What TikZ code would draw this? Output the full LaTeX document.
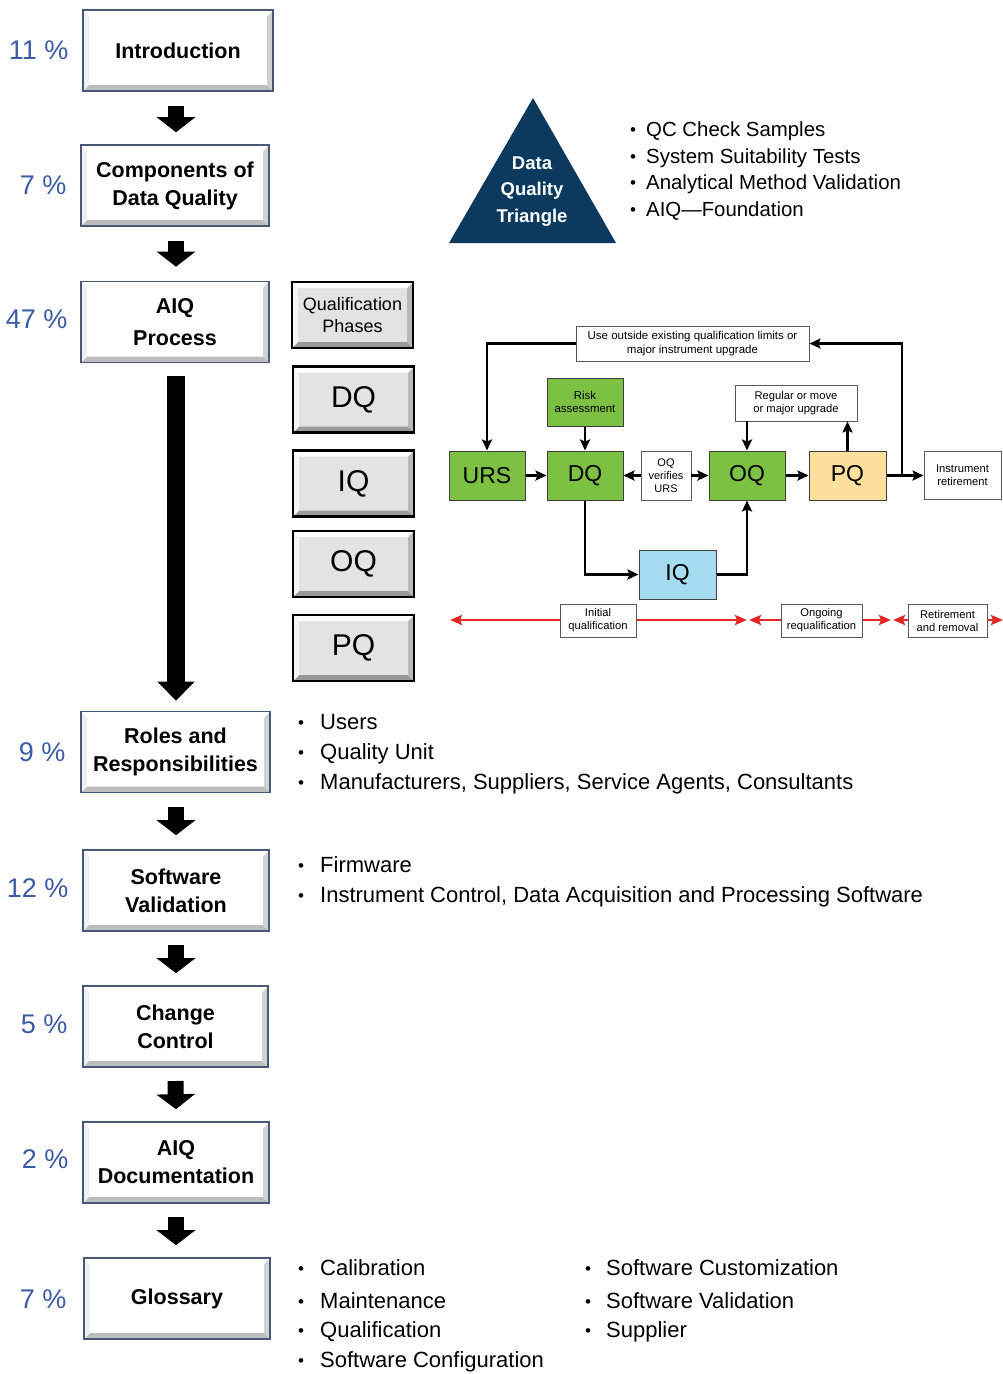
\documentclass[tikz,border=0pt]{standalone}
\usepackage{fontspec}
\setmainfont{Liberation Sans}
\usetikzlibrary{arrows.meta,calc}
\definecolor{pct}{HTML}{3B5BA5}
\definecolor{lborder}{HTML}{4A5878}
\definecolor{navy}{HTML}{0B3A5E}
\definecolor{fgreen}{HTML}{7DC142}
\definecolor{fpq}{HTML}{FDE09E}
\definecolor{fiq}{HTML}{A5DCEF}
\definecolor{rline}{HTML}{E32626}
\newcommand\tbulfont{\fontsize{20.4}{24}\selectfont}
\newcommand\lbulfont{\fontsize{22}{26}\selectfont}
\newcommand\bevelpic[5]{%
 \fill[#1] (path picture bounding box.south west) -- (path picture bounding box.south east) -- ([shift={(-#5,#5)}]path picture bounding box.south east) -- ([shift={(#5,#5)}]path picture bounding box.south west) -- cycle;
 \fill[#2] (path picture bounding box.south east) -- (path picture bounding box.north east) -- ([shift={(-#5,-#5)}]path picture bounding box.north east) -- ([shift={(-#5,#5)}]path picture bounding box.south east) -- cycle;
 \fill[#3] (path picture bounding box.south west) -- (path picture bounding box.north west) -- ([shift={(#5,-#5)}]path picture bounding box.north west) -- ([shift={(#5,#5)}]path picture bounding box.south west) -- cycle;
 \fill[#4] (path picture bounding box.north west) -- (path picture bounding box.north east) -- ([shift={(-#5,-#5)}]path picture bounding box.north east) -- ([shift={(#5,-#5)}]path picture bounding box.north west) -- cycle;
}
\newcommand\bitem[5]{%
 \node[bdot] (#1b) at (#2,#4) {•};
 \node[btext] (#1) at (#3,#4) {#5};
}
\begin{document}
\begin{tikzpicture}[x=1pt,y=-1pt,
 leftbox/.style={draw=lborder, line width=1.6pt, fill=white, inner sep=0pt, align=center,
   minimum height=81pt, font=\fontsize{21.5}{28}\selectfont\bfseries,
   path picture={\bevelpic{black!26}{black!18}{black!6}{white}{6pt}}},
 qbox/.style={draw=black, line width=2.4pt, fill=black!11, inner sep=0pt, align=center,
   minimum width=121pt, minimum height=66pt, font=\fontsize{30}{32}\selectfont,
   path picture={\bevelpic{black!40}{black!28}{black!4}{white}{6pt}}},
 pct/.style={anchor=east, text=pct, font=\fontsize{27}{30}\selectfont},
 barrow/.style={line width=16pt, -{Triangle[width=38pt,length=15pt]}},
 fbox/.style={draw=black!75, line width=1pt, inner sep=0pt, align=center, minimum height=49pt, font=\fontsize{23}{26}\selectfont},
 sbox/.style={draw=black!65, line width=0.9pt, fill=white, inner sep=0pt, align=center, font=\fontsize{11.2}{13}\selectfont},
 flow/.style={line width=2.4pt, -{Stealth[length=11pt,width=10pt,inset=2pt]}},
 redarr/.style={draw=rline, line width=2.6pt, {Stealth[length=12pt,width=10pt,inset=2pt]}-{Stealth[length=12pt,width=10pt,inset=2pt]}},
 bdot/.style={anchor=base, font=\fontsize{17}{17}\selectfont, inner sep=0pt, yshift=-6.5pt},
 btext/.style={anchor=base west, inner sep=0pt, yshift=-7pt}
]
\useasboundingbox (0,0) rectangle (1003,1374);

% ---- left column ----
\node[leftbox, minimum width=190pt] (intro) at (178,50.5) {Introduction};
\node[leftbox, minimum width=188pt] (comp) at (175,185.5) {Components of\\Data Quality};
\node[leftbox, minimum width=188pt, font=\fontsize{21.5}{32}\selectfont\bfseries] (aiq) at (175,322) {AIQ\\Process};
\node[leftbox, minimum width=189pt] (roles) at (175.5,752) {Roles and\\Responsibilities};
\node[leftbox, minimum width=186pt] (sw) at (176,890.5) {Software\\Validation};
\node[leftbox, minimum width=185pt] (cc) at (175.5,1026.5) {Change\\Control};
\node[leftbox, minimum width=186pt] (doc) at (176,1162.5) {AIQ\\Documentation};
\node[leftbox, minimum width=186pt] (gloss) at (177,1298.5) {Glossary};

\node[pct] (p1) at (72,50) {11 \%};
\node[pct] (p2) at (70,185) {7 \%};
\node[pct] (p3) at (71,319) {47 \%};
\node[pct] (p4) at (69,752) {9 \%};
\node[pct] (p5) at (72,888) {12 \%};
\node[pct] (p6) at (71,1024) {5 \%};
\node[pct] (p7) at (72,1159) {2 \%};
\node[pct] (p8) at (70,1299) {7 \%};

\draw[barrow] ($(intro.south)+(-2,14)$) -- ($(comp.north)+(1,-12)$);
\draw[barrow] ($(comp.south)+(1,14)$) -- ($(aiq.north)+(1,-14)$);
\draw[line width=18pt, -{Triangle[width=36pt,length=19pt]}] ($(aiq.south)+(1,13)$) -- ($(roles.north)+(0.5,-10)$);
\draw[barrow] ($(roles.south)+(0.5,14)$) -- ($(sw.north)+(0,-14)$);
\draw[barrow] (sw.south |- 0,945) -- ($(cc.north)+(0.5,-12)$);
\draw[barrow] (cc.south |- 0,1081) -- ($(doc.north)+(0,-12)$);
\draw[barrow] (doc.south |- 0,1217) -- ($(gloss.north)+(-1,-12)$);

% ---- qualification phases ----
\node[qbox, font=\fontsize{18}{22}\selectfont] (qp) at (352.5,315) {Qualification\\Phases};
\node[qbox] (qdq) at (353.5,399.5) {DQ};
\node[qbox] (qiq) at (353.5,483.5) {IQ};
\node[qbox] (qoq) at (353.5,564) {OQ};
\node[qbox] (qpq) at (353.5,648) {PQ};

% ---- data quality triangle ----
\fill[navy] (533,98) -- (616,243) -- (449,243) -- cycle;
\node[text=white, align=center, font=\fontsize{18.5}{26.5}\selectfont\bfseries] (dqt) at (532,191.5) {Data\\Quality\\Triangle};

\bitem{t1}{633}{646}{129}{\tbulfont QC Check Samples}
\bitem{t2}{633}{646}{156}{\tbulfont System Suitability Tests}
\bitem{t3}{633}{646}{182}{\tbulfont Analytical Method Validation}
\bitem{t4}{633}{646}{209}{\tbulfont AIQ\char"2014 Foundation}

% ---- flowchart ----
\node[sbox, minimum width=233pt, minimum height=35pt, font=\fontsize{11.5}{13.5}\selectfont] (utop) at (692.5,343.5) {Use outside existing qualification limits or\\major instrument upgrade};
\node[fbox, fill=fgreen, minimum width=76pt, minimum height=48pt, font=\fontsize{11.4}{13.5}\selectfont] (risk) at (585,402) {Risk\\assessment};
\node[fbox, fill=fgreen, minimum width=76pt] (urs) at (487,475.5) {URS};
\node[fbox, fill=fgreen, minimum width=76pt] (dq) at (585,475.5) {DQ};
\node[sbox, minimum width=50pt, minimum height=49pt, font=\fontsize{11}{13}\selectfont] (ver) at (666,475.5) {OQ\\verifies\\URS};
\node[fbox, fill=fgreen, minimum width=76pt] (oq) at (747,475.5) {OQ};
\node[fbox, fill=fpq, minimum width=77pt] (pq) at (847.5,475.5) {PQ};
\node[sbox, minimum width=77pt, minimum height=48pt] (ret) at (962.5,475.5) {Instrument\\retirement};
\node[sbox, minimum width=122pt, minimum height=36pt] (reg) at (796,403) {Regular or move\\or major upgrade};
\node[fbox, fill=fiq, minimum width=77pt] (iq) at (677.5,574.5) {IQ};

\coordinate (j) at (902,475.5);
\draw[flow] (utop.west) -| (urs.north);
\draw[flow] (risk) -- (dq);
\draw[flow] (urs) -- (dq);
\draw[flow] (ver) -- (dq);
\draw[flow] (ver) -- (oq);
\draw[flow] (oq) -- (pq);
\draw[flow] (pq) -- (ret);
\draw[flow] (j) |- (utop.east);
\draw[flow] (reg.south -| oq.north) -- (oq.north);
\draw[flow] (pq.north) -- (pq.north |- reg.south);
\draw[flow] (dq.south) |- (iq.west);
\draw[flow] (iq.east) -| (oq.south);

% ---- red timeline ----
\coordinate (r1a) at (450,620); \coordinate (r1b) at (747,620);
\coordinate (r2a) at (749,620); \coordinate (r2b) at (891,620);
\coordinate (r3a) at (893,620); \coordinate (r3b) at (1003,620);
\draw[redarr] (r1a) -- (r1b);
\draw[redarr] (r2a) -- (r2b);
\draw[redarr] (r3a) -- (r3b);
\node[sbox, minimum width=76pt, minimum height=33pt] (init) at (598,620.5) {Initial\\qualification};
\node[sbox, minimum width=81pt, minimum height=33pt] (ongo) at (821.5,620.5) {Ongoing\\requalification};
\node[sbox, minimum width=79pt, minimum height=33pt] (retr) at (947.5,620.5) {Retirement\\and removal};

% ---- lower bullets ----
\bitem{l1}{301}{320}{722}{\lbulfont Users}
\bitem{l2}{301}{320}{752}{\lbulfont Quality Unit}
\bitem{l3}{301}{320}{782}{\lbulfont Manufacturers, Suppliers, Service Agents, Consultants}
\bitem{l4}{301}{320}{865}{\lbulfont Firmware}
\bitem{l5}{301}{320}{895}{\lbulfont Instrument Control, Data Acquisition and Processing Software}
\bitem{g1}{301}{320}{1268}{\lbulfont Calibration}
\bitem{g2}{301}{320}{1301}{\lbulfont Maintenance}
\bitem{g3}{301}{320}{1330}{\lbulfont Qualification}
\bitem{g4}{301}{320}{1360}{\lbulfont Software Configuration}
\bitem{g5}{588}{606}{1268}{\lbulfont Software Customization}
\bitem{g6}{588}{606}{1301}{\lbulfont Software Validation}
\bitem{g7}{588}{606}{1330}{\lbulfont Supplier}
\end{tikzpicture}
\end{document}
